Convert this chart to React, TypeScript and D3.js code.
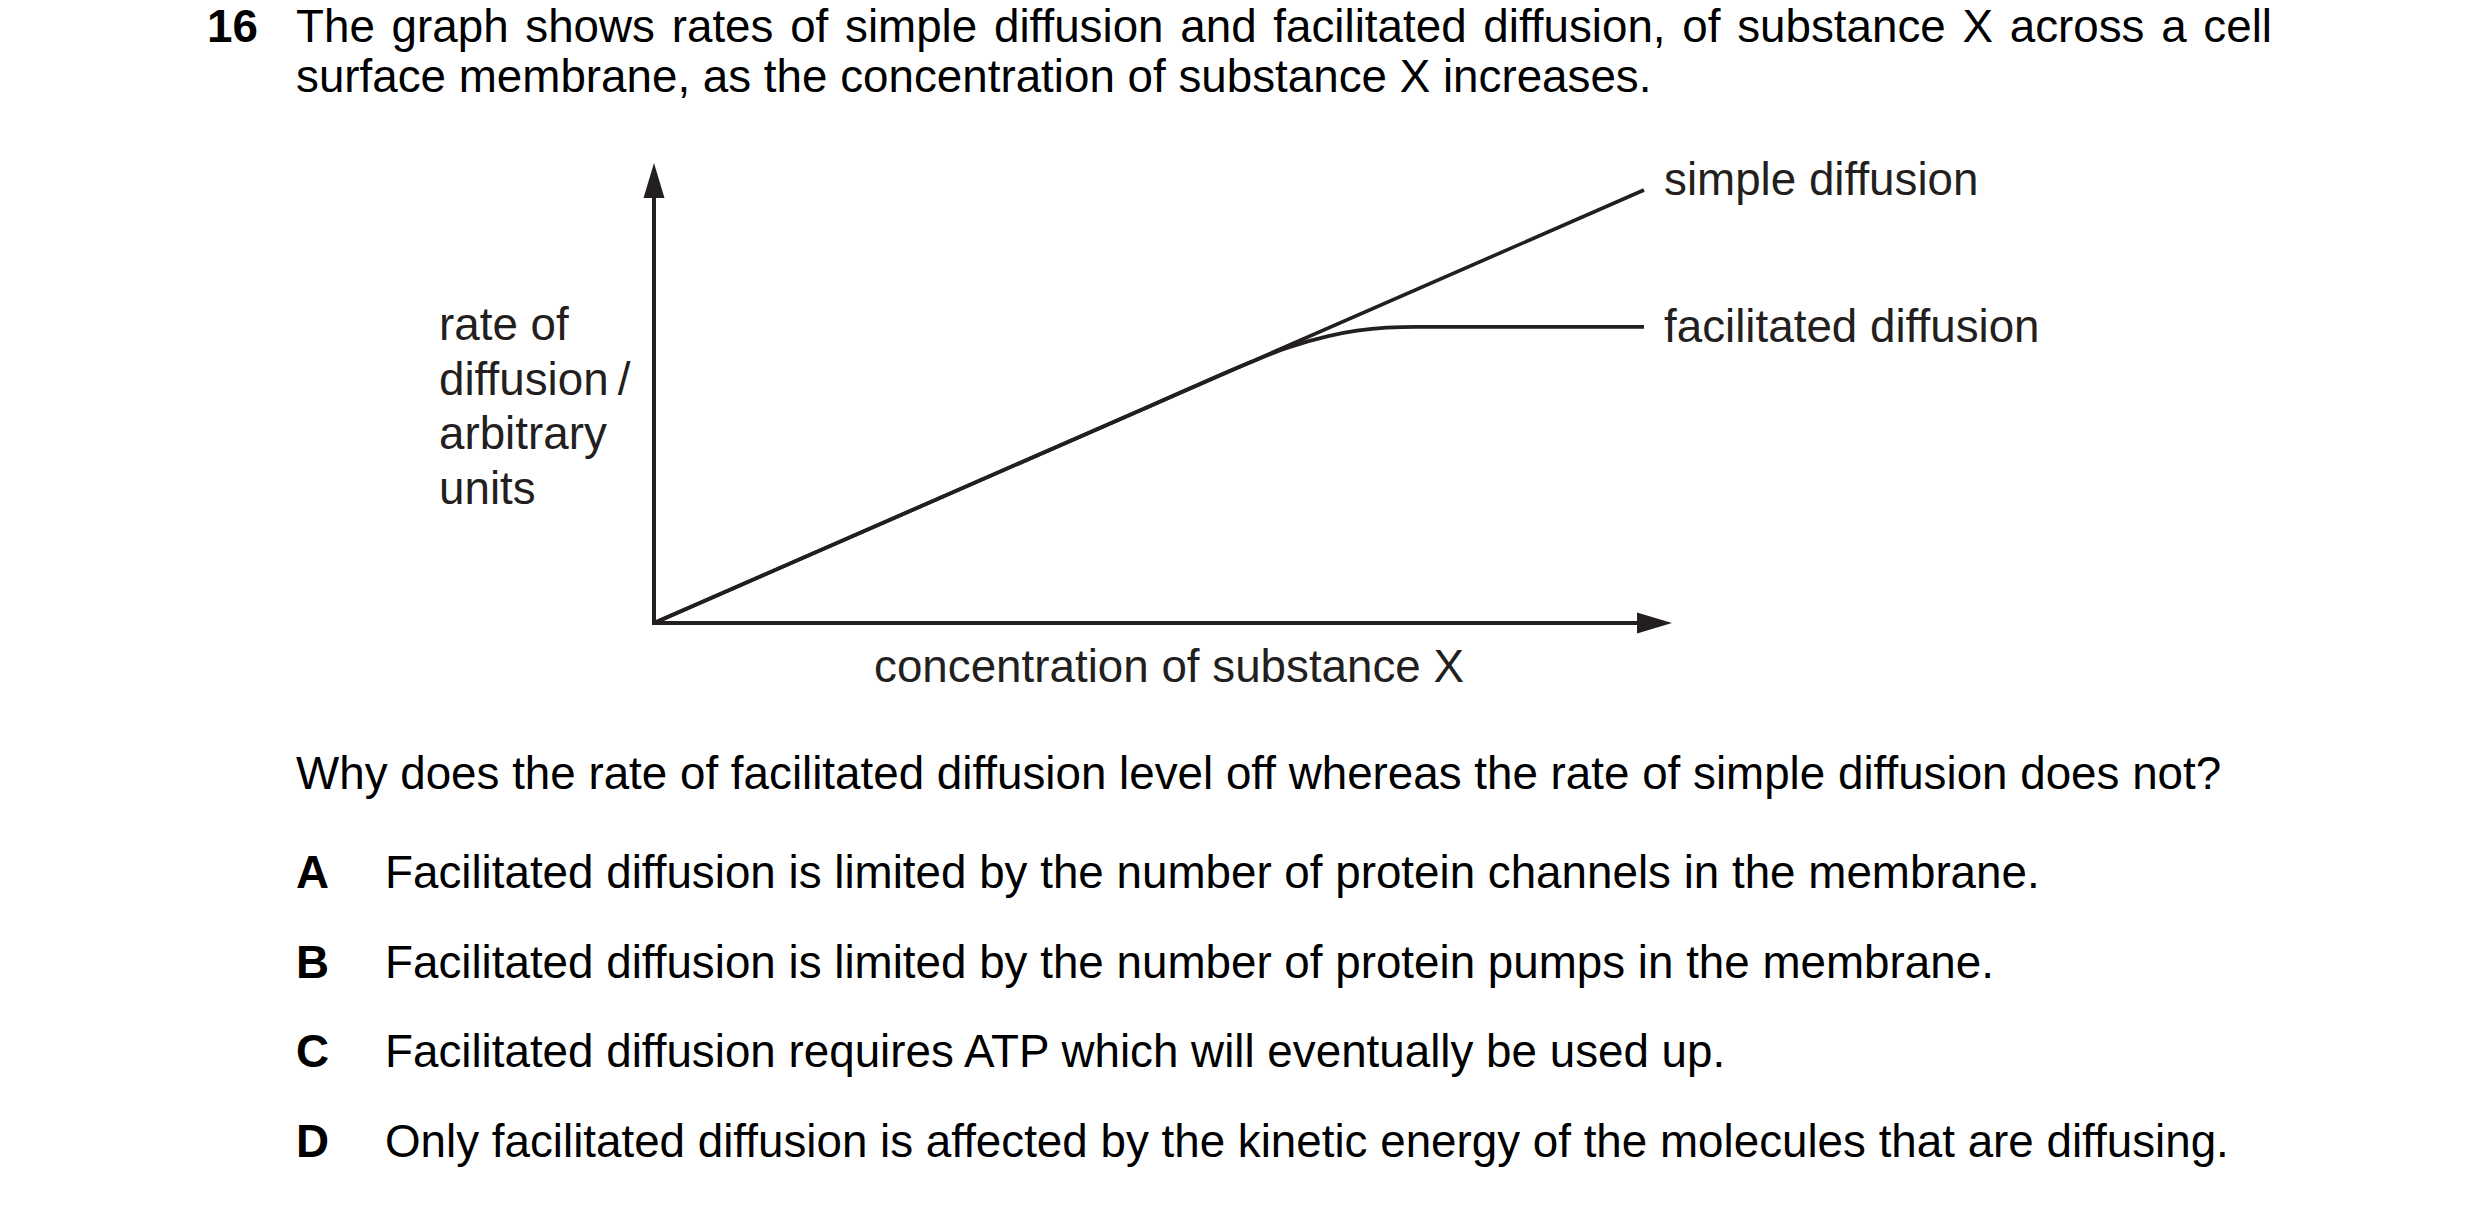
import * as d3 from 'd3';
import { useEffect, useRef } from 'react';

// chart data (arbitrary units)
const simpleConc = [0, 10];
const simpleRate = [0, 10];
const facConc = [0, 5.0, 6.0, 6.4, 6.8, 7.1, 7.4, 7.7, 10];
const facRate = [0, 5.0, 6.0, 6.36, 6.62, 6.75, 6.82, 6.84, 6.84];

const seriesLabels = ['simple diffusion', 'facilitated diffusion'];
const yLabelLines = ['rate of', 'diffusion\u2009/', 'arbitrary', 'units'];
const xLabel = 'concentration of substance X';

const qNumber = '16';
const introLines = [
    'The graph shows rates of simple diffusion and facilitated diffusion, of substance X across a cell',
    'surface membrane, as the concentration of substance X increases.'
];
const question = 'Why does the rate of facilitated diffusion level off whereas the rate of simple diffusion does not?';
const optionKeys = ['A', 'B', 'C', 'D'];
const optionTexts = [
    'Facilitated diffusion is limited by the number of protein channels in the membrane.',
    'Facilitated diffusion is limited by the number of protein pumps in the membrane.',
    'Facilitated diffusion requires ATP which will eventually be used up.',
    'Only facilitated diffusion is affected by the kinetic energy of the molecules that are diffusing.'
];

const W = 2480;
const H = 1207;
const font = '"Liberation Sans", Arial, sans-serif';
const fs = 45.75;
const ink = '#231f20';

export default function App() {
    const svgRef = useRef<SVGSVGElement>(null);

    useEffect(() => {
        const svg = d3.select(svgRef.current!);
        svg.selectAll('*').remove();

        const x = d3.scaleLinear([0, 10], [654, 1644]);
        const y = d3.scaleLinear([0, 10], [623, 190]);
        const x0 = x(0), y0 = y(0);

        // header
        const head = svg.append('g').attr('font-family', font).attr('font-size', fs).attr('fill', '#000');
        head.append('text').attr('x', 207).attr('y', 42).attr('font-weight', 'bold').text(qNumber);
        const l1 = head.append('text').attr('x', 296).attr('y', 42).text(introLines[0]);
        const natural = (l1.node() as SVGTextElement).getComputedTextLength();
        const gaps = introLines[0].split(' ').length - 1;
        l1.attr('word-spacing', (2272 - 296 - natural) / gaps);
        head.append('text').attr('x', 296).attr('y', 92).text(introLines[1]);

        // axes
        svg.append('path')
            .attr('d', `M${x0},197 V${y0} H1640`)
            .attr('fill', 'none').attr('stroke', ink).attr('stroke-width', 4)
            .attr('stroke-linejoin', 'miter').attr('stroke-linecap', 'butt');
        svg.append('path').attr('d', `M${x0},163 L${x0 + 10.5},198 L${x0 - 10.5},198 Z`).attr('fill', ink);
        svg.append('path').attr('d', `M1672,${y0} L1637,${y0 - 10.5} L1637,${y0 + 10.5} Z`).attr('fill', ink);

        // lines
        const simple = simpleConc.map((c, i) => [c, simpleRate[i]] as [number, number]);
        const fac = facConc.map((c, i) => [c, facRate[i]] as [number, number]);
        svg.append('path')
            .attr('d', d3.line().x(d => x(d[0])).y(d => y(d[1]))(simple))
            .attr('fill', 'none').attr('stroke', ink).attr('stroke-width', 3.6);
        svg.append('path')
            .attr('d', d3.line().x(d => x(d[0])).y(d => y(d[1])).curve(d3.curveMonotoneX)(fac))
            .attr('fill', 'none').attr('stroke', ink).attr('stroke-width', 3.8);

        // chart labels
        const lab = svg.append('g').attr('font-family', font).attr('font-size', fs).attr('fill', ink);
        lab.append('text').attr('x', 1664).attr('y', 195).text(seriesLabels[0]);
        lab.append('text').attr('x', 1664).attr('y', 342).text(seriesLabels[1]);
        yLabelLines.forEach((t, i) => {
            lab.append('text').attr('x', 439).attr('y', 340 + i * 54.7).text(t);
        });
        lab.append('text').attr('x', 874).attr('y', 682).text(xLabel);

        // question and options
        const q = svg.append('g').attr('font-family', font).attr('font-size', fs).attr('fill', '#000');
        q.append('text').attr('x', 296).attr('y', 789).text(question);
        optionKeys.forEach((k, i) => {
            const yy = 888 + i * 89.7;
            q.append('text').attr('x', 296).attr('y', yy).attr('font-weight', 'bold').text(k);
            q.append('text').attr('x', 385).attr('y', yy).text(optionTexts[i]);
        });
    }, []);

    return (
        <svg
            ref={svgRef}
            width={W}
            height={H}
            viewBox={`0 0 ${W} ${H}`}
            style={{ position: 'absolute', left: 0, top: 0, background: '#fff' }}
        />
    );
}
